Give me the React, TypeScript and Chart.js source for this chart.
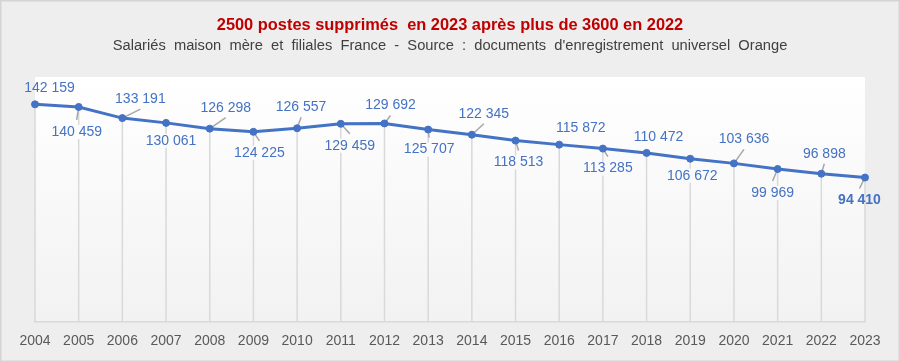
import { useEffect, useRef } from "react";
import { Chart, registerables } from "chart.js";

Chart.register(...registerables);

const years = [
  "2004", "2005", "2006", "2007", "2008", "2009", "2010", "2011", "2012", "2013",
  "2014", "2015", "2016", "2017", "2018", "2019", "2020", "2021", "2022", "2023",
];

const employees = [
  142159, 140459, 133191, 130061, 126298, 124225, 126557, 129459, 129692, 125707,
  122345, 118513, 115872, 113285, 110472, 106672, 103636, 99969, 96898, 94410,
];

const titleText = "2500 postes supprimés  en 2023 après plus de 3600 en 2022";
const subtitleText =
  "Salariés  maison  mère  et  filiales  France  -  Source  :  documents  d'enregistrement  universel  Orange";

// label placement style: [dx, dy, leader line]
const labelPlacement: [number, number, boolean][] = [
  [14.5, -16, false], [-2, 25, true], [18, -19, true], [5, 18, false], [16, -21, true],
  [6, 21, true], [4, -21, true], [9, 22, true], [6, -18, true], [1, 20, true],
  [12, -21, true], [3, 22, true], [21.5, -16, false], [5, 20, true], [12, -16, false],
  [2, 17, false], [10, -24, true], [-5, 24, true], [3, -20, true], [-5.5, 23, true],
];

const BLUE = "#4472c4";
const FONT = "'Liberation Sans', Arial, sans-serif";

const fmt = (v: number) => v.toString().replace(/\B(?=(\d{3})+(?!\d))/g, " ");

export default function App() {
  const ref = useRef<HTMLCanvasElement | null>(null);

  useEffect(() => {
    document.body.style.margin = "0";
    const canvas = ref.current;
    if (!canvas) return;

    const framePlugin = {
      id: "frame",
      beforeDraw(chart: any) {
        const { ctx, width, height, chartArea } = chart;
        ctx.save();
        ctx.fillStyle = "#eeeeee";
        ctx.fillRect(0, 0, width, height);
        ctx.strokeStyle = "#d4d4d4";
        ctx.lineWidth = 1.5;
        ctx.strokeRect(0.75, 0.75, width - 1.5, height - 1.5);
        const g = ctx.createLinearGradient(0, chartArea.top, 0, chartArea.bottom);
        g.addColorStop(0, "#ffffff");
        g.addColorStop(1, "#f2f2f2");
        ctx.fillStyle = g;
        ctx.fillRect(chartArea.left, chartArea.top, chartArea.right - chartArea.left, chartArea.bottom - chartArea.top);
        ctx.textAlign = "center";
        ctx.textBaseline = "middle";
        ctx.fillStyle = "#c00000";
        ctx.font = `bold 16.4px ${FONT}`;
        ctx.fillText(titleText, width / 2, 25);
        ctx.fillStyle = "#404040";
        ctx.font = `14.7px ${FONT}`;
        ctx.fillText(subtitleText, width / 2, 46);
        ctx.restore();
      },
      beforeDatasetsDraw(chart: any) {
        const { ctx, chartArea } = chart;
        const meta = chart.getDatasetMeta(0);
        ctx.save();
        ctx.strokeStyle = "#d9d9d9";
        ctx.lineWidth = 1.5;
        meta.data.forEach((pt: any) => {
          ctx.beginPath();
          ctx.moveTo(pt.x, pt.y);
          ctx.lineTo(pt.x, chartArea.bottom);
          ctx.stroke();
        });
        ctx.strokeStyle = "#a6a6a6";
        ctx.lineWidth = 1.5;
        meta.data.forEach((pt: any, i: number) => {
          const [dx, dy, leader] = labelPlacement[i];
          if (!leader) return;
          const cx = pt.x + dx;
          const cy = pt.y + dy;
          const ey = dy < 0 ? cy + 10 : cy - 12;
          ctx.beginPath();
          ctx.moveTo(pt.x, pt.y);
          ctx.lineTo(cx, ey);
          ctx.stroke();
        });
        ctx.restore();
      },
      afterDatasetsDraw(chart: any) {
        const { ctx, chartArea } = chart;
        const meta = chart.getDatasetMeta(0);
        const g = ctx.createLinearGradient(0, chartArea.top, 0, chartArea.bottom);
        g.addColorStop(0, "#ffffff");
        g.addColorStop(1, "#f2f2f2");
        ctx.save();
        ctx.textAlign = "center";
        ctx.textBaseline = "middle";
        meta.data.forEach((pt: any, i: number) => {
          const [dx, dy] = labelPlacement[i];
          const cx = pt.x + dx;
          const cy = pt.y + dy;
          const last = i === employees.length - 1;
          ctx.font = `${last ? "bold " : ""}14px ${FONT}`;
          const txt = fmt(employees[i]);
          const w = ctx.measureText(txt).width;
          const x0 = Math.max(chartArea.left + 1, cx - w / 2 - 2);
          const x1 = Math.min(chartArea.right - 1, cx + w / 2 + 2);
          if (x1 > x0) {
            ctx.fillStyle = g;
            ctx.fillRect(x0, cy - 7, x1 - x0, 14);
          }
          ctx.fillStyle = BLUE;
          ctx.fillText(txt, cx, cy);
        });
        ctx.restore();
      },
    };

    const chart = new Chart(canvas, {
      type: "line",
      data: {
        labels: years,
        datasets: [
          {
            data: employees,
            borderColor: BLUE,
            backgroundColor: BLUE,
            borderWidth: 3,
            pointRadius: 3.5,
            pointBorderWidth: 1,
            pointBackgroundColor: BLUE,
            pointBorderColor: BLUE,
            tension: 0,
          },
        ],
      },
      options: {
        responsive: false,
        animation: false,
        layout: { padding: { left: 35, right: 35, top: 77, bottom: 1 } },
        plugins: { legend: { display: false }, tooltip: { enabled: false }, title: { display: false } },
        scales: {
          x: {
            offset: false,
            grid: { display: false, drawTicks: false },
            border: { display: true, color: "#d9d9d9", width: 1.5 },
            ticks: {
              color: "#595959",
              font: { family: FONT, size: 14 },
              padding: 11,
              autoSkip: false,
              maxRotation: 0,
            },
          },
          y: { display: false, min: 0, max: 160000 },
        },
      },
      plugins: [framePlugin],
    });

    return () => chart.destroy();
  }, []);

  return <canvas ref={ref} width={900} height={362} style={{ display: "block" }} />;
}
